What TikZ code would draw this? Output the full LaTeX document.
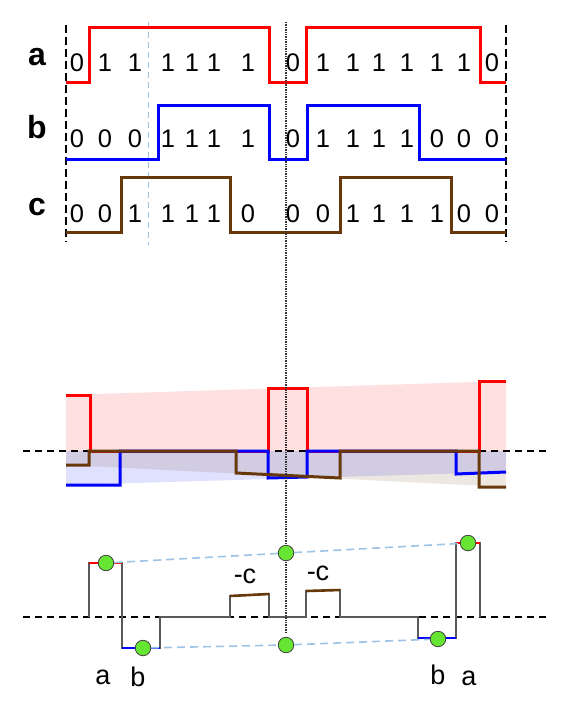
\documentclass[tikz,border=0pt]{standalone}
\usepackage{fontspec}
\setmainfont{Liberation Sans}
\usetikzlibrary{positioning}
\definecolor{sigbrown}{RGB}{102,56,10}
\definecolor{envblue}{RGB}{157,195,230}
\definecolor{dotgreen}{RGB}{102,230,51}

\begin{document}
\begin{tikzpicture}[x=1pt,y=-1pt,
  signal/.style={line width=3pt},
  part/.style={line width=2.6pt},
  sum line/.style={draw=black!65,line width=1.6pt},
  zero line/.style={draw=black,line width=1.3pt,dash pattern=on 7pt off 5pt},
  frame line/.style={draw=black,line width=1.3pt,dash pattern=on 8pt off 4pt},
  cut line/.style={draw=black!80,line width=1.4pt,densely dotted},
  envelope/.style={draw=envblue,line width=1.6pt,dash pattern=on 8pt off 5pt},
  bit node/.style={font=\fontsize{25.5}{25.5}\selectfont,inner sep=0pt},
  row label/.style={font=\fontsize{32}{32}\selectfont\bfseries,inner sep=0pt},
  sum label/.style={font=\fontsize{27}{27}\selectfont,inner sep=0pt},
  sample/.style={circle,fill=dotgreen,draw=black!75,line width=0.8pt,minimum size=15.5pt,inner sep=0pt}]

  \useasboundingbox (0,0) rectangle (580,705);

  % shaded envelopes
  \fill[red,fill opacity=.12] (66,451) -- (66,395) -- (506,381) -- (506,451) -- cycle;
  \fill[blue,fill opacity=.12] (66,451) -- (66,485) -- (506,472) -- (506,451) -- cycle;
  \fill[sigbrown,fill opacity=.12] (66,451) -- (66,465) -- (506,487) -- (506,451) -- cycle;

  % reference lines
  \draw[zero line] (23,451) -- (548,451);
  \draw[zero line] (23,617) -- (548,617);
  \draw[frame line] (66,25) -- (66,242);
  \draw[frame line] (506,25) -- (506,242);
  \draw[draw=envblue,line width=1pt,dash pattern=on 6pt off 4pt] (148,22) -- (148,245);

  % bit streams
  \node[row label] (a) at (37,57) {a};
  \node[row label] (b) at (37,127) {b};
  \node[row label] (c) at (37,207) {c};
  \draw[signal,red] (66,82) -| (89,27) -| (269,82) -| (306,27) -| (480,82) -- (506,82);
  \draw[signal,blue] (66,159) -| (158,105) -| (269,159) -| (307,105) -| (419,159) -- (506,159);
  \draw[signal,sigbrown] (66,232) -| (121,177) -| (230,232) -| (340,177) -| (451,232) -- (506,232);
  \foreach \x/\p/\q/\r in {77/0/0/0,105/1/0/0,135/1/0/1,168/1/1/1,192/1/1/1,214/1/1/1,
      248/1/1/0,293/0/0/0,323/1/1/0,353/1/1/1,379/1/1/1,407/1/1/1,437/1/0/1,464/1/0/0,492/0/0/0}{
    \node[bit node] (a\x) at (\x,63) {\p};
    \node[bit node] (b\x) at (\x,139) {\q};
    \node[bit node] (c\x) at (\x,214) {\r};
  }

  % weighted streams
  \draw[signal,red] (66,395) -| (90,451) -| (268,388) -| (307,451) -| (479,381) -- (506,381);
  \draw[signal,blue] (66,485) -| (120,451) -| (268,478) -- (307,477) |- (456,451) -- (456,474) -- (506,472);
  \draw[signal,sigbrown] (66,465) -| (89,451) -| (236,473) -- (340,478) |- (479,451) -- (479,487) -- (506,487);

  % sum
  \draw[sum line] (89,617) -- (89,563) -- (122,563) -- (122,648) -- (160,648) -- (160,617)
    -- (230,617) -- (230,596) -- (269,594) -- (269,617) -- (306,617) -- (306,591) -- (340,590)
    -- (340,617) -- (418,617) -- (418,638) -- (456,638) -- (456,543) -- (480,543) -- (480,617);
  \draw[part,red] (89,563) -- (122,563);
  \draw[part,red] (456,543) -- (480,543);
  \draw[part,blue] (122,648) -- (160,648);
  \draw[part,blue] (418,638) -- (456,638);
  \draw[part,sigbrown] (230,596) -- (269,594);
  \draw[part,sigbrown] (306,591) -- (340,590);

  \draw[cut line] (286,22) -- (286,632);

  \node[sample] (pa) at (106,563) {};
  \node[sample] (pb) at (143,648) {};
  \node[sample] (ma) at (286,553) {};
  \node[sample] (mb) at (286,645) {};
  \node[sample] (qb) at (438,639) {};
  \node[sample] (qa) at (468,543) {};
  \draw[envelope] (pa) -- (ma) -- (qa);
  \draw[envelope] (pb) -- (mb) -- (qb);

  \node[sum label] (ca) at (245,576) {-c};
  \node[sum label] (cb) at (318,573) {-c};
  \node[sum label] (la) at (103,677) {a};
  \node[sum label] (lb) at (138,677) {b};
  \node[sum label] (rb) at (438,675) {b};
  \node[sum label] (ra) at (469,678) {a};

\end{tikzpicture}
\end{document}
